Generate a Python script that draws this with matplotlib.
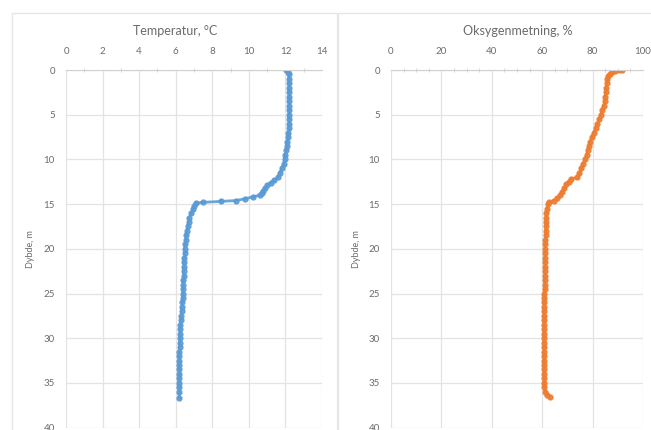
import matplotlib.pyplot as plt
from matplotlib.patches import Rectangle
from matplotlib.ticker import MultipleLocator

# Temperatur-profil (dybde m, temperatur °C)
temp_depth = [0.0, 0.2, 0.5, 1.0, 1.5, 2.0, 2.5, 3.0, 3.5, 4.0, 4.5, 5.0, 5.5, 6.0,
              6.5, 7.0, 7.5, 8.0, 8.5, 9.0, 9.5, 10.0, 10.5, 11.0, 11.5, 12.0, 12.3,
              12.6, 12.9, 13.2, 13.5, 13.8, 14.0, 14.2, 14.4, 14.6, 14.7, 14.8, 14.9,
              15.2, 15.6, 16.0, 16.5, 17.0, 17.5, 18.0, 18.5, 19.0, 19.5, 20.0, 20.5,
              21.0, 21.5, 22.0, 22.5, 23.0, 23.5, 24.0, 24.5, 25.0, 25.5, 26.0, 26.5,
              27.0, 27.5, 28.0, 28.5, 29.0, 29.5, 30.0, 30.5, 31.0, 31.5, 32.0, 32.5,
              33.0, 33.5, 34.0, 34.5, 35.0, 35.5, 36.0, 36.7]
temp_vals = [12.05, 12.15, 12.2, 12.2, 12.2, 12.2, 12.2, 12.2, 12.2, 12.2, 12.2, 12.2,
             12.2, 12.2, 12.2, 12.15, 12.15, 12.1, 12.1, 12.05, 12.0, 11.95, 11.9, 11.8,
             11.7, 11.6, 11.4, 11.2, 11.0, 10.9, 10.8, 10.7, 10.6, 10.2, 9.8, 9.3,
             8.45, 7.5, 7.1, 7.0, 6.95, 6.85, 6.75, 6.7, 6.65, 6.6, 6.58, 6.55, 6.52,
             6.5, 6.5, 6.48, 6.46, 6.45, 6.44, 6.43, 6.42, 6.41, 6.4, 6.4, 6.38, 6.36,
             6.34, 6.32, 6.3, 6.28, 6.26, 6.25, 6.24, 6.22, 6.22, 6.21, 6.2, 6.2, 6.2,
             6.2, 6.2, 6.19, 6.19, 6.18, 6.18, 6.18, 6.2]

# Oksygenmetning-profil (dybde m, metning %)
oxy_depth = [0.0, 0.0, 0.1, 0.2, 0.4, 0.7, 1.0, 1.5, 2.0, 2.5, 3.0, 3.5, 4.0, 4.5, 5.0,
             5.5, 6.0, 6.5, 7.0, 7.5, 8.0, 8.5, 9.0, 9.5, 10.0, 10.5, 11.0, 11.5, 12.0,
             12.2, 12.5, 12.8, 13.2, 13.6, 14.0, 14.3, 14.6, 14.8, 15.0, 15.5, 16.0,
             16.5, 17.0, 17.5, 18.0, 18.5, 19.0, 19.5, 20.0, 20.5, 21.0, 21.5, 22.0,
             22.5, 23.0, 23.5, 24.0, 24.5, 25.0, 25.5, 26.0, 26.5, 27.0, 27.5, 28.0,
             28.5, 29.0, 29.5, 30.0, 30.5, 31.0, 31.5, 32.0, 32.5, 33.0, 33.5, 34.0,
             34.5, 35.0, 35.5, 36.0, 36.3, 36.6]
oxy_vals = [91.5, 90.5, 89.0, 87.8, 87.0, 86.3, 85.9, 85.6, 85.4, 85.2, 85.0, 84.8,
            84.4, 83.8, 83.2, 82.6, 81.9, 81.2, 80.5, 79.7, 79.0, 78.5, 78.0, 77.6,
            77.0, 76.2, 75.5, 74.8, 74.0, 71.5, 70.5, 69.5, 68.8, 68.0, 67.0, 66.0,
            64.5, 62.8, 62.2, 61.9, 61.7, 61.6, 61.5, 61.5, 61.4, 61.4, 61.3, 61.3,
            61.2, 61.2, 61.2, 61.1, 61.1, 61.1, 61.0, 61.0, 61.0, 61.0, 60.9, 60.9,
            60.9, 60.8, 60.8, 60.8, 60.8, 60.7, 60.7, 60.7, 60.7, 60.7, 60.7, 60.7,
            60.7, 60.7, 60.7, 60.7, 60.7, 60.8, 60.8, 60.9, 61.3, 62.0, 63.0]

grey_txt = "#6b6b6b"
grid_col = "#e3e3e3"
font = ["Lato", "DejaVu Sans"]

fig = plt.figure(figsize=(6.51, 4.30), dpi=100)
W, H = 651, 430


def fx(px):
    return px / W


def fy(py):
    return 1 - py / H


# rammer rundt de to diagrammene
for x0, x1 in [(12, 337), (338, 660)]:
    fig.add_artist(Rectangle((fx(x0), fy(440)), fx(x1 - x0), fy(13) - fy(440),
                             transform=fig.transFigure, fill=False,
                             edgecolor="#e6e6e6", linewidth=1))


def setup(ax, xmax, xmajor, xminor, title, title_x):
    ax.set_xlim(0, xmax)
    ax.set_ylim(40, 0)
    ax.xaxis.set_major_locator(MultipleLocator(xmajor))
    ax.xaxis.set_minor_locator(MultipleLocator(xminor))
    ax.yaxis.set_major_locator(MultipleLocator(5))
    ax.xaxis.tick_top()
    ax.grid(True, which="major", color=grid_col, linewidth=0.9)
    ax.set_axisbelow(True)
    for s in ["left", "right", "bottom"]:
        ax.spines[s].set_visible(False)
    ax.spines["top"].set_color("#d0d0d0")
    ax.tick_params(axis="x", which="major", length=0, pad=10, labelsize=7,
                   labelcolor=grey_txt)
    ax.tick_params(axis="x", which="minor", length=3, direction="inout",
                   color="#d0d0d0", top=True, bottom=False)
    ax.tick_params(axis="y", length=0, pad=8, labelsize=7, labelcolor=grey_txt)
    for lab in ax.get_xticklabels() + ax.get_yticklabels():
        lab.set_family(font)
    fig.text(fx(title_x), fy(31), title, ha="center", va="center",
             fontsize=9, color=grey_txt, family=font)
    ax.set_ylabel("Dybde, m", fontsize=6.5, color=grey_txt, family=font)
    ax.yaxis.set_label_coords(-0.12, 0.5)


ax1 = fig.add_axes([fx(66), fy(427.6), fx(322 - 66), fy(70) - fy(427.6)])
ax1.plot(temp_vals, temp_depth, color="#5b9bd5", linewidth=2, marker="o",
         markersize=3.5, alpha=0.9)
setup(ax1, 14, 2, 1, "Temperatur, °C", 175)

ax2 = fig.add_axes([fx(391), fy(427.6), fx(643 - 391), fy(70) - fy(427.6)])
ax2.plot(oxy_vals, oxy_depth, color="#ed7d31", linewidth=2, marker="o",
         markersize=3.5, alpha=0.9)
setup(ax2, 100, 20, 5, "Oksygenmetning, %", 518)

fig.savefig("out.png", dpi=100)
